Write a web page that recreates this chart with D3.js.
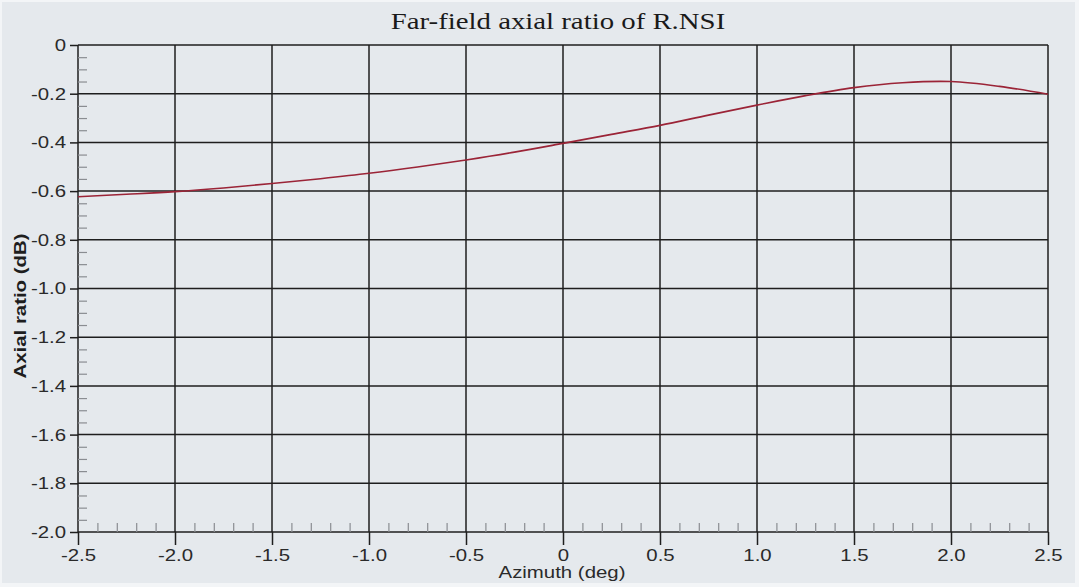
<!DOCTYPE html>
<html><head><meta charset="utf-8">
<script src="https://cdn.jsdelivr.net/npm/d3@7"></script>
<style>html,body{margin:0;padding:0;background:#fff;}svg{display:block;}</style>
</head><body>
<script>
const azimuth = [-2.5,-2.25,-2.0,-1.75,-1.5,-1.25,-1.0,-0.75,-0.5,-0.25,0,0.25,0.5,0.75,1.0,1.25,1.5,1.75,2.0,2.25,2.5];
const axialRatio = [-0.623,-0.613,-0.602,-0.587,-0.569,-0.549,-0.527,-0.501,-0.472,-0.440,-0.404,-0.367,-0.330,-0.288,-0.247,-0.208,-0.175,-0.155,-0.150,-0.170,-0.202];
const xTicks = [-2.5,-2.0,-1.5,-1.0,-0.5,0,0.5,1.0,1.5,2.0,2.5];
const xTickLabels = ["-2.5","-2.0","-1.5","-1.0","-0.5","0","0.5","1.0","1.5","2.0","2.5"];
const yTicks = [0,-0.2,-0.4,-0.6,-0.8,-1.0,-1.2,-1.4,-1.6,-1.8,-2.0];
const yTickLabels = ["0","-0.2","-0.4","-0.6","-0.8","-1.0","-1.2","-1.4","-1.6","-1.8","-2.0"];
const title = "Far-field axial ratio of R.NSI";
const xTitle = "Azimuth (deg)";
const yTitle = "Axial ratio (dB)";

const W = 1079, H = 587;
const SX = 1.2; // horizontal stretch of glyphs seen in the reference
const m = {left:78, right:1048, top:45, bottom:532};
const svg = d3.select("body").append("svg").attr("width",W).attr("height",H);
svg.append("rect").attr("x",0).attr("y",0).attr("width",W).attr("height",H).attr("fill","#f3f5f7");
svg.append("rect").attr("x",2).attr("y",2).attr("width",W-6).attr("height",H-6).attr("fill","#e5e9ed");

const x = d3.scaleLinear().domain([-2.5,2.5]).range([m.left,m.right]);
const y = d3.scaleLinear().domain([-2.0,0]).range([m.bottom,m.top]);

// grid
const g = svg.append("g");
g.selectAll(".vg").data(xTicks).join("line")
  .attr("x1",d=>x(d)).attr("x2",d=>x(d)).attr("y1",m.top).attr("y2",m.bottom)
  .attr("stroke","#1e1e1e").attr("stroke-width",1.5);
g.selectAll(".hg").data(yTicks).join("line")
  .attr("x1",m.left).attr("x2",m.right).attr("y1",d=>y(d)).attr("y2",d=>y(d))
  .attr("stroke","#1e1e1e").attr("stroke-width",1.5);

// minor ticks
const xMinor = d3.range(-2.4,2.5,0.1).filter(v=>Math.abs(Math.round(v*2)-v*2)>0.01);
svg.append("g").attr("transform",`translate(0,${m.bottom})`)
  .call(d3.axisTop(x).tickValues(xMinor).tickSize(9).tickFormat(""))
  .call(s=>s.select(".domain").remove())
  .call(s=>s.selectAll("line").attr("stroke","#8a8d92").attr("stroke-width",1.2));
const yMinor = d3.range(-1.95,0,0.05).filter(v=>Math.abs(Math.round(v*5)-v*5)>0.01);
svg.append("g").attr("transform",`translate(${m.left},0)`)
  .call(d3.axisRight(y).tickValues(yMinor).tickSize(9).tickFormat(""))
  .call(s=>s.select(".domain").remove())
  .call(s=>s.selectAll("line").attr("stroke","#8a8d92").attr("stroke-width",1.2));

const sans = "'Liberation Sans', Arial, sans-serif";

// major axes
const xAxis = svg.append("g").attr("transform",`translate(0,${m.bottom})`)
  .call(d3.axisBottom(x).tickValues(xTicks).tickSize(13).tickPadding(4).tickFormat((d,i)=>xTickLabels[i]));
xAxis.select(".domain").remove();
xAxis.selectAll("line").attr("stroke","#1e1e1e").attr("stroke-width",1.5);
xAxis.selectAll("text").attr("font-family",sans).attr("font-size",17).attr("fill","#2a2a2a")
  .attr("transform",`scale(${SX},1)`);

const yAxis = svg.append("g").attr("transform",`translate(${m.left},0)`)
  .call(d3.axisLeft(y).tickValues(yTicks).tickSize(8).tickFormat((d,i)=>yTickLabels[i]));
yAxis.select(".domain").remove();
yAxis.selectAll("line").attr("stroke","#1e1e1e").attr("stroke-width",1.5);
yAxis.selectAll("text").attr("font-family",sans).attr("font-size",17).attr("fill","#2a2a2a")
  .attr("x",-12/SX).attr("transform",`scale(${SX},1)`);

// curve
svg.append("path").datum(azimuth.map((a,i)=>[a,axialRatio[i]]))
  .attr("d",d3.line().x(d=>x(d[0])).y(d=>y(d[1])).curve(d3.curveCatmullRom))
  .attr("fill","none").attr("stroke","#9b2437").attr("stroke-width",1.6);

// titles
svg.append("text").attr("transform",`translate(558,29) scale(${SX},1)`).attr("text-anchor","middle")
  .attr("font-family","'Liberation Serif','Times New Roman',serif").attr("font-size",24).attr("fill","#1a1a1a").text(title);
svg.append("text").attr("transform",`translate(562,578) scale(${SX},1)`).attr("text-anchor","middle")
  .attr("font-family",sans).attr("font-size",17).attr("fill","#2a2a2a").text(xTitle);
svg.append("text").attr("transform",`translate(26,306) rotate(-90) scale(${SX},1)`).attr("text-anchor","middle")
  .attr("font-family",sans).attr("font-size",17).attr("font-weight","bold").attr("fill","#1e1e1e").text(yTitle);
</script>
</body></html>
